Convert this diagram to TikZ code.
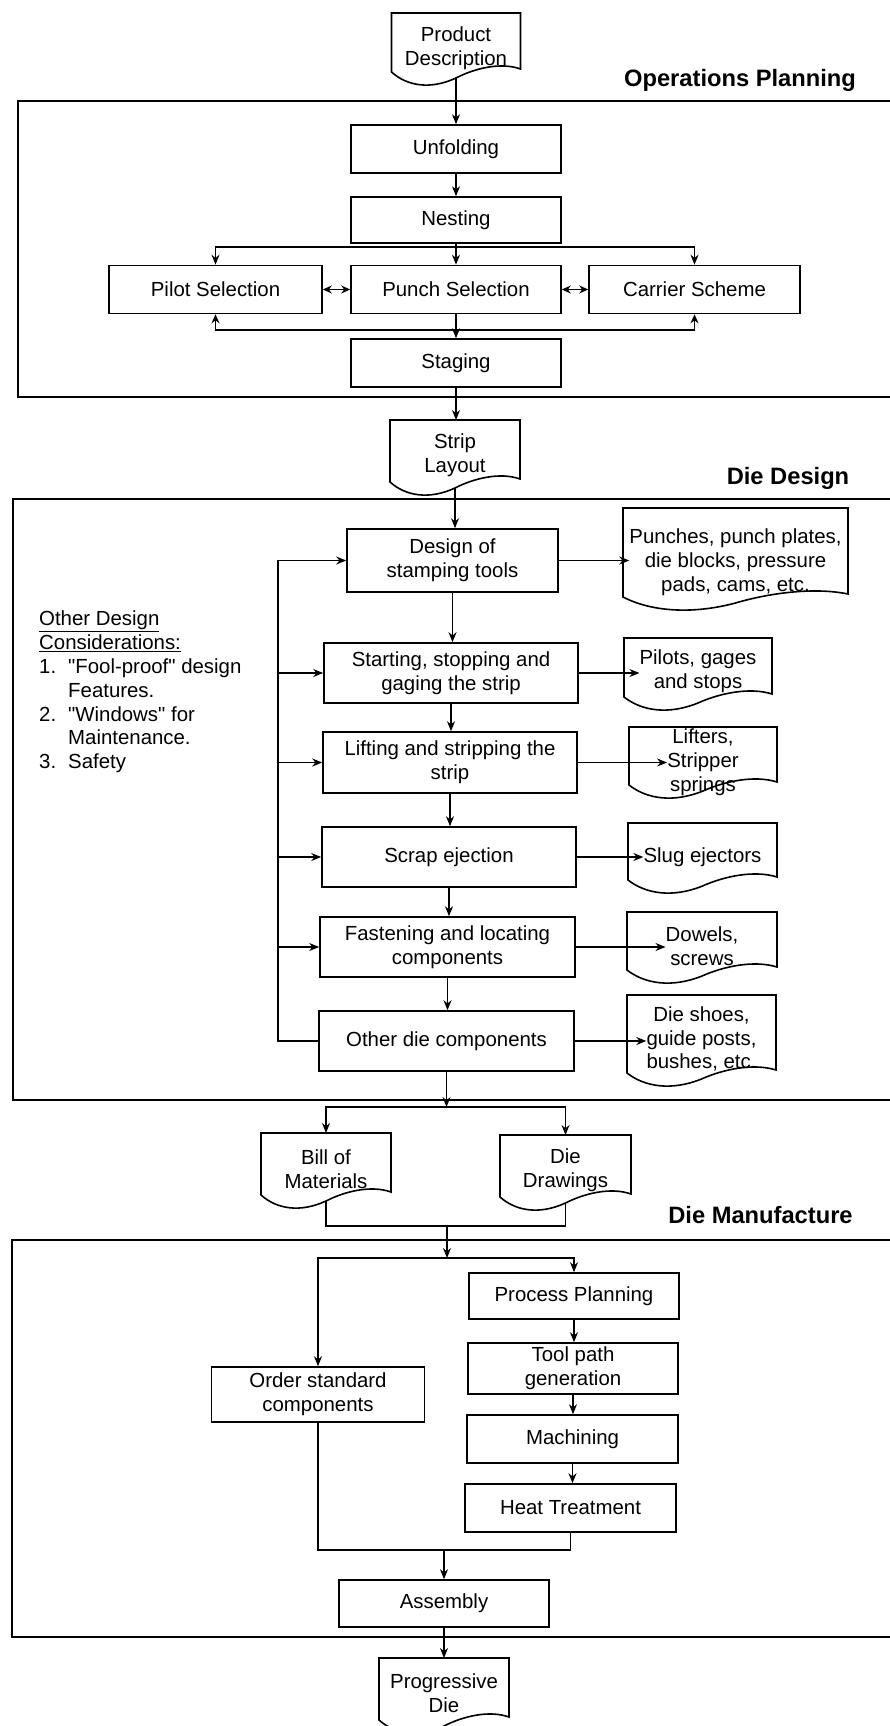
\documentclass[tikz,border=0pt]{standalone}
\usepackage{fontspec}
\setmainfont{Liberation Sans}
\newfontfamily\plainq{Liberation Sans}
\usetikzlibrary{arrows.meta,calc}
\newcommand\bxfont{\fontsize{20.4}{23.8}\selectfont}
\newcommand\hdfont{\fontsize{23.7}{28}\selectfont\bfseries}
\newcommand\sq{{\plainq"}}
\tikzset{
  box/.style={draw, line width=1.6pt, minimum height=48pt, minimum width=210pt, align=center, inner sep=2pt, font=\bxfont},
  doc/.style={align=center, inner sep=0pt, font=\bxfont},
  docl/.style={line width=1.6pt, line join=miter},
  arr/.style={line width=1.3pt, -{Stealth[length=10pt,width=8pt]}},
  darr/.style={line width=1.3pt, {Stealth[length=9pt,width=8pt]}-{Stealth[length=9pt,width=8pt]}},
  ln/.style={line width=1.3pt},
  frame/.style={line width=2pt},
  head/.style={font=\hdfont, inner sep=0pt},
}
% document outline: name, width, height, upward shift of outline vs text centre
\newcommand\docout[4]{%
  \path let \p0=(#1.center) in
    coordinate (#1-sw) at ({\x0-#2*0.5pt},{\y0-#3*0.5pt+#4pt})
    coordinate (#1-ne) at ({\x0+#2*0.5pt},{\y0+#3*0.5pt+#4pt})
    coordinate (#1-top) at ({\x0},{\y0+#3*0.5pt+#4pt})
    coordinate (#1-bot) at ({\x0},{\y0-#3*0.5pt+#4pt-6pt});
  \draw[docl] let \p1=(#1-sw), \p2=(#1-ne), \n1={\x2-\x1} in
    (\x1,\y1) -- (\x1,\y2) -- (\x2,\y2) -- ({\x2},{\y1+3pt})
    .. controls ({\x1+0.85*\n1},{\y1+10pt}) and ({\x1+0.65*\n1},{\y1+4pt}) .. ({\x1+0.5*\n1},{\y1-6pt})
    .. controls ({\x1+0.3*\n1},{\y1-18pt}) and ({\x1+0.12*\n1},{\y1-14pt}) .. (\x1,\y1) -- cycle;
}
\begin{document}
\begin{tikzpicture}[x=1pt,y=-1pt]
\fill[white] (0,0) rectangle (889,1726);
\useasboundingbox (0,0) rectangle (889,1726);

% ---------------- section frames ----------------
\draw[frame] (900,101) -- (18,101) -- (18,397) -- (900,397);
\draw[frame] (900,499) -- (13,499) -- (13,1100) -- (900,1100);
\draw[frame] (900,1240) -- (12,1240) -- (12,1637) -- (900,1637);

% ---------------- Operations Planning ----------------
\node[doc] (pd) at (456,48) {Product\\Description};
\docout{pd}{129}{59}{5.5}
\node[head] (h1) at (740,80) {Operations Planning};
\node[box] (unf) at (456,149) {Unfolding};
\node[box, minimum height=46pt] (nest) at (456,220) {Nesting};
\node[box, minimum width=213pt] (pilot) at (215.5,289.5) {Pilot Selection};
\node[box] (punch) at (456,289.5) {Punch Selection};
\node[box, minimum width=211pt] (carrier) at (694.5,289.5) {Carrier Scheme};
\node[box] (stag) at (456,363) {Staging};
\coordinate (s1) at (456,247);
\coordinate (fb) at (456,330);

\draw[arr] (pd-bot) -- (unf.north);
\draw[arr] (unf) -- (nest);
\draw[arr] (nest) -- (punch);
\draw[arr] (s1) -| (pilot.north);
\draw[arr] (s1) -| (carrier.north);
\draw[darr] (pilot.east) -- (punch.west);
\draw[darr] (punch.east) -- (carrier.west);
\draw[darr] (pilot.south) |- (fb) -| (carrier.south);
\draw[arr] (punch) -- (stag);

% ---------------- Die Design ----------------
\node[doc] (strip) at (455,455) {Strip\\Layout};
\docout{strip}{130}{62}{4}
\node[head] (h2) at (788,478) {Die Design};
\draw[arr] (stag.south) -- (stag.south |- strip-top);

\node[box, minimum width=211pt, minimum height=63pt] (design) at (452.5,560.5) {Design of\\stamping tools};
\node[box, minimum width=254pt, minimum height=60pt] (starting) at (451,673) {Starting, stopping and\\gaging the strip};
\node[box, minimum width=254pt, minimum height=61pt] (lifting) at (450,762.5) {Lifting and stripping the\\strip};
\node[box, minimum width=254pt, minimum height=60pt] (scrap) at (449,857) {Scrap ejection};
\node[box, minimum width=255pt, minimum height=60pt] (fasten) at (447.5,947) {Fastening and locating\\components};
\node[box, minimum width=255pt, minimum height=60pt] (other) at (446.5,1041) {Other die components};

\node[doc] (punchdoc) at (735.5,562) {Punches, punch plates,\\die blocks, pressure\\pads, cams, etc.};
\docout{punchdoc}{225}{89}{9.5}
\node[doc] (pilotsdoc) at (698,671.5) {Pilots, gages\\and stops};
\docout{pilotsdoc}{148}{59}{4}
\node[doc] (liftdoc) at (703,762) {Lifters,\\Stripper\\springs};
\docout{liftdoc}{148}{58}{6}
\node[doc] (slugdoc) at (702.5,857) {Slug ejectors};
\docout{slugdoc}{149}{57}{5.5}
\node[doc] (doweldoc) at (702,946.5) {Dowels,\\screws};
\docout{doweldoc}{150}{58}{5.5}
\node[doc] (shoedoc) at (701.5,1039) {Die shoes,\\guide posts,\\bushes, etc.};
\docout{shoedoc}{149}{78}{5}

\node[font=\bxfont, align=left, anchor=west, inner sep=0pt] (odc) at (39,692)
  {\underline{Other Design}\\\underline{Considerations:}\\
   \makebox[29pt][l]{1.}\sq Fool-proof\sq{} design\\\hspace*{29pt}Features.\\
   \makebox[29pt][l]{2.}\sq Windows\sq{} for\\\hspace*{29pt}Maintenance.\\
   \makebox[29pt][l]{3.}Safety};

\draw[arr] (strip-bot) -- (strip-bot |- design.north);
\draw[arr] (design.south) -- (design.south |- starting.north);
\draw[arr] (starting.south) -- (starting.south |- lifting.north);
\draw[arr] (lifting.south) -- (lifting.south |- scrap.north);
\draw[arr] (scrap.south) -- (scrap.south |- fasten.north);
\draw[arr] (fasten.south) -- (fasten.south |- other.north);

\draw[arr] (design.east) -- (design.east -| punchdoc.west);
\draw[arr] (starting.east) -- (starting.east -| pilotsdoc.west);
\draw[arr] (lifting.east) -- (lifting.east -| liftdoc.west);
\draw[arr] (scrap.east) -- (scrap.east -| slugdoc.west);
\draw[arr] (fasten.east) -- (fasten.east -| doweldoc.west);
\draw[arr] (other.east) -- (other.east -| shoedoc.west);

\coordinate (lp) at (278,560.5);
\draw[arr] (other.west) -| (lp) -- (design.west);
\foreach \b in {starting,lifting,scrap,fasten}
  \draw[arr] (lp |- \b.west) -- (\b.west);

% ---------------- Die Manufacture ----------------
\node[doc] (bom) at (326,1169.5) {Bill of\\Materials};
\docout{bom}{130}{62}{5.5}
\node[doc] (drw) at (565.5,1170) {Die\\Drawings};
\docout{drw}{131}{62}{4}
\node[head] (h3) at (760.5,1215) {Die Manufacture};

\coordinate (s2) at (446.5,1107);
\draw[arr] (other.south) -- (s2);
\draw[arr] (s2) -| (bom-top);
\draw[arr] (s2) -| (drw-top);

\node[box, minimum height=46pt] (pp) at (574,1296) {Process Planning};
\node[box, minimum height=51pt] (tp) at (573,1368.5) {Tool path\\generation};
\node[box, minimum width=213pt, minimum height=55pt] (order) at (318,1394.5) {Order standard\\components};
\node[box, minimum width=211pt] (mach) at (572.5,1439) {Machining};
\node[box, minimum width=211pt] (ht) at (570.5,1508) {Heat Treatment};
\node[box, minimum height=47pt] (asm) at (444,1603.5) {Assembly};
\node[doc] (prog) at (444,1693.5) {Progressive\\Die};
\docout{prog}{130}{62}{4.5}

\coordinate (j1) at (447,1226);
\coordinate (s3) at (447,1258);
\draw[ln] (bom-bot) |- (j1) -| (drw-bot);
\draw[arr] (j1) -- (s3);
\draw[arr] (s3) -| (pp.north);
\draw[arr] (s3) -| (order.north);
\draw[arr] (pp.south) -- (pp.south |- tp.north);
\draw[arr] (tp.south) -- (tp.south |- mach.north);
\draw[arr] (mach.south) -- (mach.south |- ht.north);

\coordinate (j2) at (444,1550);
\draw[ln] (order.south) |- (j2) -| (ht.south);
\draw[arr] (j2) -- (asm.north);
\draw[arr] (asm.south) -- (prog-top);
\end{tikzpicture}
\end{document}
